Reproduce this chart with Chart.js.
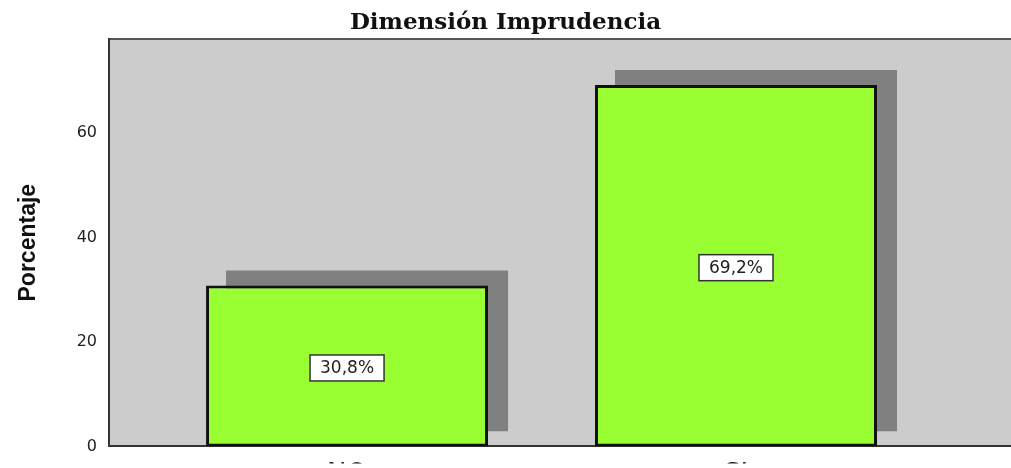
<!DOCTYPE html>
<html>
<head>
<meta charset="utf-8">
<script src="https://cdn.jsdelivr.net/npm/chart.js@4/dist/chart.umd.min.js"></script>
<style>
  html, body { margin: 0; padding: 0; background: #fff; }
  #wrap { width: 1011px; height: 468px; }
</style>
</head>
<body>
<div id="wrap"><canvas id="chart"></canvas></div>
<script>
// Datos del gráfico
const categorias = ["NO", "SI"];
const posiciones = [0, 1]; // lugar de cada categoría en el eje x
const porcentajes = [30.8, 69.2];
const marcasY = [0, 20, 40, 60];

// Fondo gris del área del gráfico y línea superior
const fondoPlugin = {
  id: "fondo",
  beforeDraw(chart) {
    const { ctx, chartArea: a } = chart;
    ctx.save();
    ctx.fillStyle = "#cccccc";
    ctx.fillRect(a.left, a.top, a.right - a.left, a.bottom - a.top);
    ctx.strokeStyle = "#555";
    ctx.lineWidth = 2;
    ctx.beginPath();
    ctx.moveTo(a.left, a.top);
    ctx.lineTo(a.right, a.top);
    ctx.stroke();
    ctx.restore();
  },
};

// Sombra: el dataset de sombra se dibuja desplazado
const sombraPlugin = {
  id: "sombra",
  beforeDatasetDraw(chart, args) {
    if (chart.data.datasets[args.index].id !== "sombra") return;
    chart.ctx.save();
    chart.ctx.translate(20, -15);
  },
  afterDatasetDraw(chart, args) {
    if (chart.data.datasets[args.index].id !== "sombra") return;
    chart.ctx.restore();
  },
};

// Etiquetas con el porcentaje dentro de cada barra
const etiquetasPlugin = {
  id: "etiquetas",
  afterDatasetsDraw(chart) {
    const ctx = chart.ctx;
    const meta = chart.getDatasetMeta(0);
    ctx.save();
    ctx.font = "17px 'DejaVu Sans'";
    ctx.textAlign = "center";
    ctx.textBaseline = "middle";
    meta.data.forEach((bar, i) => {
      const texto = porcentajes[i].toFixed(1).replace(".", ",") + "%";
      const w = ctx.measureText(texto).width + 20;
      const h = 26;
      const cx = bar.x;
      const cy = (bar.y + bar.base) / 2 + 2;
      ctx.fillStyle = "#fff";
      ctx.fillRect(cx - w / 2, cy - h / 2, w, h);
      ctx.strokeStyle = "#333";
      ctx.lineWidth = 1.5;
      ctx.strokeRect(cx - w / 2, cy - h / 2, w, h);
      ctx.fillStyle = "#222";
      ctx.fillText(texto, cx, cy + 1);
    });
    ctx.restore();
  },
};

const puntos = porcentajes.map((v, i) => ({ x: posiciones[i], y: v }));

const ctx = document.getElementById("chart").getContext("2d");
new Chart(ctx, {
  type: "bar",
  data: {
    datasets: [
      {
        id: "barras",
        data: puntos,
        backgroundColor: "#99ff33",
        borderColor: "#111",
        borderWidth: 3,
        borderSkipped: false,
        barPercentage: 0.725,
        categoryPercentage: 1,
        grouped: false,
        order: 1,
      },
      {
        id: "sombra",
        data: puntos,
        backgroundColor: "#808080",
        borderWidth: 0,
        barPercentage: 0.725,
        categoryPercentage: 1,
        grouped: false,
        order: 2,
      },
    ],
  },
  options: {
    responsive: true,
    maintainAspectRatio: false,
    animation: false,
    layout: { padding: 0 },
    plugins: {
      legend: { display: false },
      tooltip: { enabled: false },
      title: {
        display: true,
        text: "Dimensión Imprudencia",
        color: "#111",
        font: { family: "'DejaVu Serif'", weight: "bold", size: 23 },
        padding: { top: 9, bottom: 2.4 },
      },
    },
    scales: {
      x: {
        type: "linear",
        offset: false,
        min: -0.612,
        max: 1.707,
        afterBuildTicks: (s) => {
          s.ticks = posiciones.map((v) => ({ value: v }));
        },
        afterFit: (s) => {
          s.height = 17;
        },
        ticks: {
          callback: (v) => categorias[v],
          color: "#222",
          font: { family: "'DejaVu Sans'", size: 26 },
          padding: 13,
          maxRotation: 0,
          autoSkip: false,
        },
        grid: { display: false, drawTicks: false },
        border: { color: "#333", width: 2 },
      },
      y: {
        min: 0,
        max: 78,
        afterBuildTicks: (s) => {
          s.ticks = marcasY.map((v) => ({ value: v }));
        },
        afterFit: (s) => {
          s.width = 109;
        },
        ticks: {
          color: "#222",
          font: { family: "'DejaVu Sans'", size: 16 },
          padding: 12,
        },
        grid: { display: false, drawTicks: false },
        border: { color: "#333", width: 2 },
        title: {
          display: true,
          text: "Porcentaje",
          color: "#111",
          font: { family: "'Liberation Sans'", weight: "bold", size: 23 },
          padding: { top: 15, bottom: 0 },
        },
      },
    },
  },
  plugins: [fondoPlugin, sombraPlugin, etiquetasPlugin],
});
</script>
</body>
</html>
